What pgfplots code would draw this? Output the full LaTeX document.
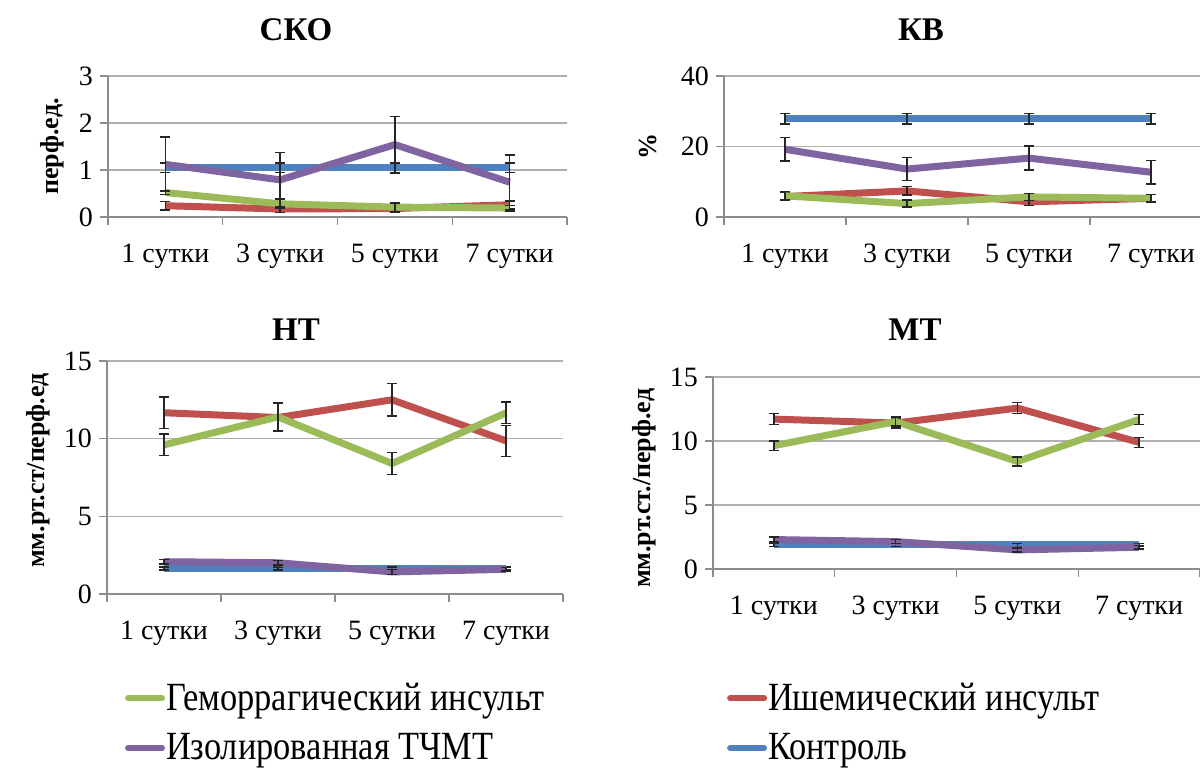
\documentclass[border=0pt]{standalone}
\usepackage{fontspec}
\setmainfont{Liberation Serif}
\usepackage{graphicx}
\usepackage{pgfplots}
\usepackage{pgfplotstable}
\pgfplotsset{compat=1.18}
\definecolor{cgreen}{HTML}{9BBB59}
\definecolor{cred}{HTML}{C0504D}
\definecolor{cpurple}{HTML}{8064A2}
\definecolor{cblue}{HTML}{4F81BD}
\definecolor{axisgray}{HTML}{8C8C8C}
\definecolor{gridgray}{HTML}{B0B0B0}

\pgfplotstableread{
x blue be red re green ge purple pe
0 1.05 0.10 0.24 0.09 0.52 0.04 1.12 0.58
1 1.05 0.10 0.17 0.08 0.28 0.10 0.79 0.58
2 1.05 0.10 0.18 0.08 0.21 0.09 1.54 0.60
3 1.05 0.10 0.26 0.08 0.19 0.06 0.74 0.58
}\tSKO
\pgfplotstableread{
x blue be red re green ge purple pe
0 27.9 1.5 5.8 1.2 6.0 1.2 19.2 3.3
1 27.9 1.5 7.4 1.2 3.8 1.0 13.6 3.3
2 27.9 1.5 4.3 1.0 5.7 1.0 16.7 3.4
3 27.9 1.5 5.3 1.0 5.3 1.0 12.7 3.3
}\tKV
\pgfplotstableread{
x blue be red re green ge purple pe
0 1.65 0.10 11.67 1.00 9.60 0.70 2.08 0.15
1 1.65 0.10 11.36 0.90 11.40 0.90 2.01 0.15
2 1.65 0.10 12.50 1.05 8.40 0.70 1.42 0.15
3 1.65 0.10 9.86 1.00 11.66 0.70 1.59 0.12
}\tNT
\pgfplotstableread{
x blue be red re green ge purple pe
0 1.88 0.12 11.71 0.42 9.63 0.38 2.30 0.20
1 1.88 0.12 11.40 0.40 11.52 0.35 2.14 0.15
2 1.88 0.12 12.57 0.42 8.40 0.35 1.49 0.15
3 1.88 0.12 9.89 0.40 11.68 0.40 1.70 0.15
}\tMT

\pgfplotsset{
  panel/.style={
    scale only axis,
    axis lines=left,
    axis line style={-, draw=axisgray, line width=0.7pt},
    xmin=-0.5, xmax=3.5,
    xtick={-0.5,0.5,1.5,2.5,3.5},
    xticklabels={},
    extra x ticks={0,1,2,3},
    extra x tick labels={1 сутки,3 сутки,5 сутки,7 сутки},
    extra x tick style={major tick length=0pt, grid=none},
    tick align=outside,
    major tick length=4pt,
    ymin=0,
    ymajorgrids,
    grid style={draw=gridgray, line width=0.7pt},
    tick style={draw=axisgray, line width=0.7pt},
    tick label style={font=\fontsize{14}{16}\selectfont},
    xticklabel style={yshift=-10pt},
    /pgf/number format/assume math mode=true,
    ylabel style={font=\bfseries\fontsize{13}{15}\selectfont, anchor=center},
    clip=false,
    legend cell align=left,
    legend image code/.code={\draw[##1, line cap=round, line width=3pt] (0pt,0pt) -- (17pt,0pt);},
  },
  ser/.style={line width=3.5pt, color=#1, line join=round, no markers,
    error bars/y dir=both, error bars/y explicit,
    error bars/error bar style={line width=0.7pt, color=black!85},
    error bars/error mark options={rotate=90, mark size=2.5pt, line width=0.7pt, color=black!85}},
  leg/.style={legend style={draw=none, fill=none, inner sep=0pt, outer sep=0pt,
    row sep=9pt, font=\fontsize{20}{22}\selectfont,
    nodes={inner sep=0.5pt},
    /tikz/every odd column/.append style={column sep=0pt}}},
}

\begin{document}
\begin{tikzpicture}
\path[use as bounding box] (0pt,0pt) rectangle (600pt,388pt);

% ---------- СКО ----------
\begin{axis}[panel, at={(54pt,279.5pt)}, anchor=south west,
  width=229.5pt, height=70.5pt, ymax=3, ytick={0,1,2,3},
  ylabel={перф.ед.}, ylabel style={at={(axis description cs:-0.122,0.5)}}]
\addplot[ser=cblue] table[x=x,y=blue,y error=be]{\tSKO};
\addplot[ser=cred] table[x=x,y=red,y error=re]{\tSKO};
\addplot[ser=cgreen] table[x=x,y=green,y error=ge]{\tSKO};
\addplot[ser=cpurple] table[x=x,y=purple,y error=pe]{\tSKO};
\end{axis}

% ---------- КВ ----------
\begin{axis}[panel, at={(362pt,279.5pt)}, anchor=south west,
  width=244pt, height=70.5pt, ymax=40, ytick={0,20,40},
  ylabel={\%}, ylabel style={at={(axis description cs:-0.156,0.5)}}]
\addplot[ser=cblue] table[x=x,y=blue,y error=be]{\tKV};
\addplot[ser=cred] table[x=x,y=red,y error=re]{\tKV};
\addplot[ser=cgreen] table[x=x,y=green,y error=ge]{\tKV};
\addplot[ser=cpurple] table[x=x,y=purple,y error=pe]{\tKV};
\end{axis}

% ---------- НТ ----------
\begin{axis}[panel, leg, at={(53.5pt,91pt)}, anchor=south west,
  width=228pt, height=116.5pt, ymax=15, ytick={0,5,10,15},
  ylabel={мм.рт.ст/перф.ед}, ylabel style={at={(axis description cs:-0.151,0.53)}},
  legend style={at={(axis description cs:0.0395,-0.378)}, anchor=north west}]
\addplot[forget plot, ser=cblue] table[x=x,y=blue,y error=be]{\tNT};
\addplot[forget plot, ser=cred] table[x=x,y=red,y error=re]{\tNT};
\addplot[ser=cgreen] table[x=x,y=green,y error=ge]{\tNT};
\addlegendentry{\scalebox{0.86}[1]{Геморрагический инсульт}}
\addplot[ser=cpurple] table[x=x,y=purple,y error=pe]{\tNT};
\addlegendentry{\scalebox{0.86}[1]{Изолированная ТЧМТ}}
\end{axis}

% ---------- МТ ----------
\begin{axis}[panel, leg, at={(356.5pt,103.5pt)}, anchor=south west,
  width=243.5pt, height=96pt, ymax=15, ytick={0,5,10,15},
  ylabel={мм.рт.ст./перф.ед}, ylabel style={at={(axis description cs:-0.142,0.42)}},
  reverse legend,
  legend style={at={(axis description cs:0.029,-0.589)}, anchor=north west}]
\addplot[ser=cblue] table[x=x,y=blue,y error=be]{\tMT};
\addlegendentry{\scalebox{0.86}[1]{Контроль}}
\addplot[ser=cred] table[x=x,y=red,y error=re]{\tMT};
\addlegendentry{\scalebox{0.86}[1]{Ишемический инсульт}}
\addplot[forget plot, ser=cgreen] table[x=x,y=green,y error=ge]{\tMT};
\addplot[forget plot, ser=cpurple] table[x=x,y=purple,y error=pe]{\tMT};
\end{axis}

% titles
\node[font=\bfseries\fontsize{16.5}{19}\selectfont] at (148pt,373pt) {СКО};
\node[font=\bfseries\fontsize{16.5}{19}\selectfont] at (460.5pt,373pt) {КВ};
\node[font=\bfseries\fontsize{16.5}{19}\selectfont] at (148pt,223pt) {НТ};
\node[font=\bfseries\fontsize{16.5}{19}\selectfont] at (457.5pt,223pt) {МТ};
\end{tikzpicture}
\end{document}
